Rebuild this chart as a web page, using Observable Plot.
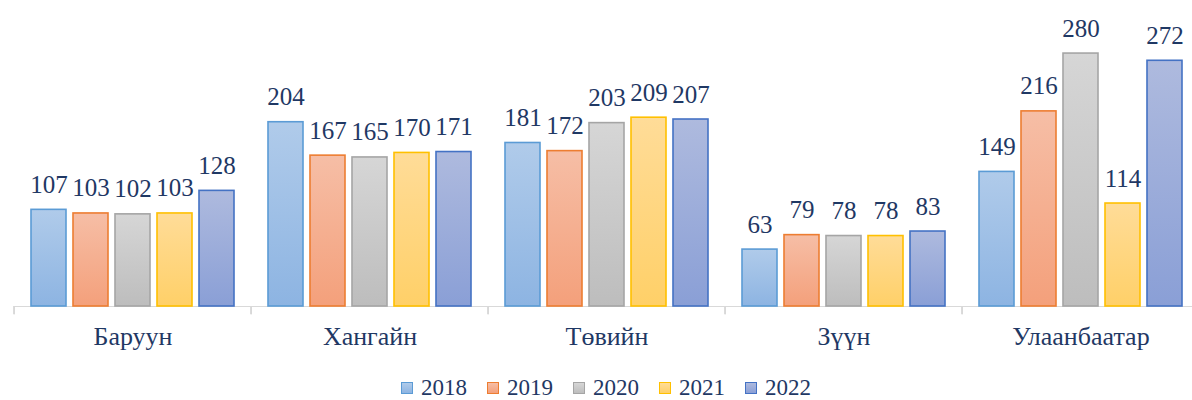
<!DOCTYPE html>
<html>
<head>
<meta charset="utf-8">
<script src="https://cdn.jsdelivr.net/npm/d3@7"></script>
<script src="https://cdn.jsdelivr.net/npm/@observablehq/plot@0.6"></script>
</head>
<body style="margin:0;padding:0;background:#fff;overflow:hidden;font-family:'Liberation Serif'">
<div id="chart" style="width:1192px"></div>
<div id="legend" style="display:flex;justify-content:center;align-items:center;gap:20px;width:1200px;padding-left:12px;box-sizing:border-box;margin-top:16px;font-family:'Liberation Serif';font-size:23px;color:#1f3864;line-height:24px"></div>
<script>
const regions = ["Баруун", "Хангайн", "Төвийн", "Зүүн", "Улаанбаатар"];
const years = ["2018", "2019", "2020", "2021", "2022"];
const v2018 = [107, 204, 181, 63, 149];
const v2019 = [103, 167, 172, 79, 216];
const v2020 = [102, 165, 203, 78, 280];
const v2021 = [103, 170, 209, 78, 114];
const v2022 = [128, 171, 207, 83, 272];

const seriesValues = [v2018, v2019, v2020, v2021, v2022];
const fillTop = ["#b0cbea", "#f6bea6", "#d6d6d6", "#ffdc98", "#aebade"];
const fillBottom = ["#8db4e2", "#f4a07b", "#bdbdbd", "#ffd068", "#8a9fd6"];
const strokes = ["#5b9bd5", "#ed7d31", "#a5a5a5", "#ffc000", "#4472c4"];

const data = [];
years.forEach((yr, j) => regions.forEach((r, i) => data.push({region: r, year: yr, value: seriesValues[j][i]})));

const W = 1192, H = 360, mL = 12, mR = -8, mT = 35, mB = 54;
const pIn = 0.17, pOut = 0.40;
const facetW = (W - mL - mR) / regions.length;
const step = facetW / (years.length - pIn + 2 * pOut);
const bw = step * (1 - pIn);
const font = "Liberation Serif";
const navy = "#1f3864";

const plot = Plot.plot({
  width: W, height: H,
  marginLeft: mL, marginRight: mR, marginTop: mT, marginBottom: mB,
  style: {fontFamily: font, fontSize: "26px", color: navy, background: "white"},
  fx: {domain: regions, padding: 0, label: null, tickSize: 0, tickPadding: 20, axis: "bottom"},
  x: {domain: years, paddingInner: pIn, paddingOuter: pOut, axis: null},
  y: {domain: [0, 300], axis: null},
  color: {type: "identity"},
  marks: [
    Plot.ruleY([0], {stroke: "#d9d9d9", strokeWidth: 1.2}),
    Plot.barY(regions, {x: () => years[0], y1: 0, y2: -9, fill: "#d9d9d9",
      insetLeft: -step * pOut - 0.6, insetRight: bw + step * pOut - 0.6}),
    Plot.barY(data, {fx: "region", x: "year", y: "value",
      fill: d => `url(#grad${d.year})`, stroke: d => strokes[years.indexOf(d.year)], strokeWidth: 1.6}),
    Plot.text(data, {fx: "region", x: "year", y: "value", text: d => String(d.value),
      lineAnchor: "bottom", dy: -17, fontSize: 25, fill: navy, fontFamily: font})
  ]
});

d3.select(plot).selectAll("text").attr("font-family", font);

const defs = d3.select(plot).insert("defs", ":first-child");
years.forEach((yr, j) => {
  const g = defs.append("linearGradient").attr("id", "grad" + yr)
    .attr("x1", 0).attr("y1", 0).attr("x2", 0).attr("y2", 1);
  g.append("stop").attr("offset", "0%").attr("stop-color", fillTop[j]);
  g.append("stop").attr("offset", "100%").attr("stop-color", fillBottom[j]);
});

document.getElementById("chart").appendChild(plot);

const legend = d3.select("#legend");
years.forEach((yr, j) => {
  const it = legend.append("div").style("display", "flex").style("align-items", "center").style("gap", "8px");
  it.append("span")
    .style("width", "10px").style("height", "10px")
    .style("border", `1.5px solid ${strokes[j]}`)
    .style("background", `linear-gradient(${fillTop[j]}, ${fillBottom[j]})`);
  it.append("span").style("font-family", font).text(yr);
});
</script>
</body>
</html>
